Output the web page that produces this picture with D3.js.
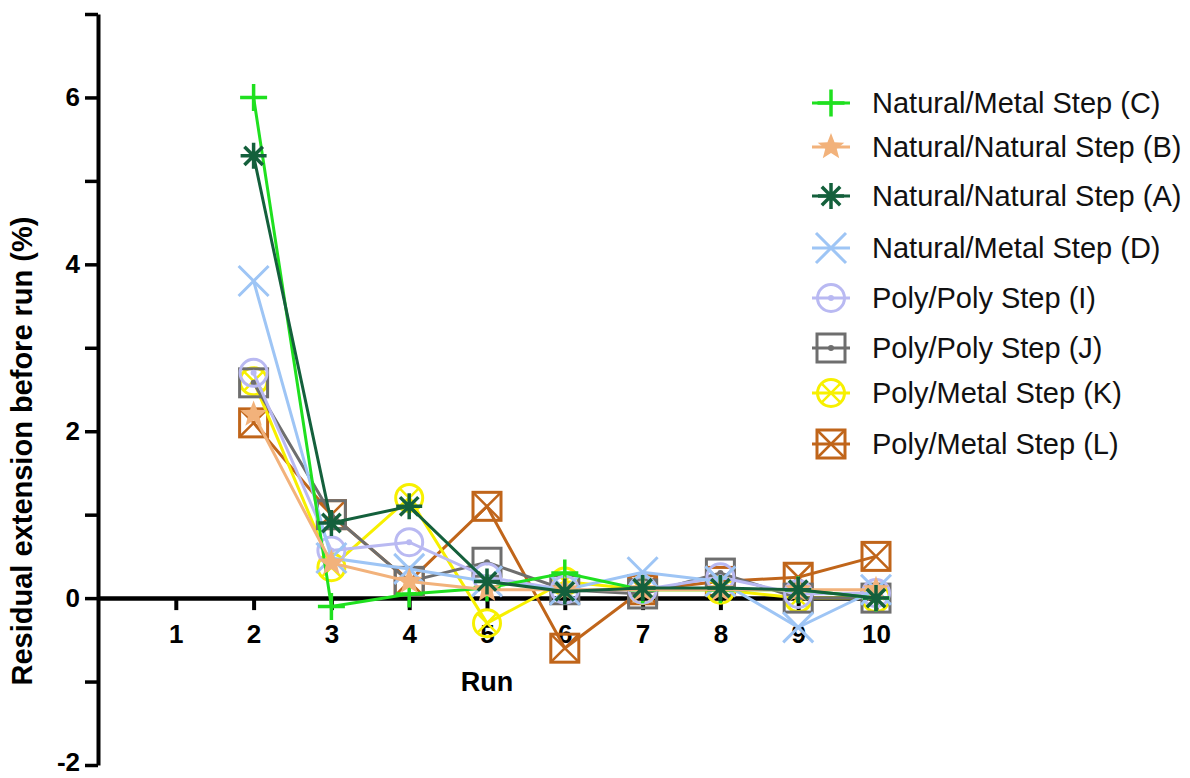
<!DOCTYPE html>
<html><head><meta charset="utf-8">
<script src="https://cdn.jsdelivr.net/npm/d3@7"></script>
<style>
body{margin:0;background:#fff;}
svg{display:block;font-family:Arial,"Liberation Sans",sans-serif;}
</style></head>
<body><svg id="chart" width="1190" height="778"></svg>
<script>
// ---- data ----
const runs = [2,3,4,5,6,7,8,9,10];
const seriesNames = ["Natural/Metal Step (C)","Natural/Natural Step (B)","Natural/Natural Step (A)","Natural/Metal Step (D)","Poly/Poly Step (I)","Poly/Poly Step (J)","Poly/Metal Step (K)","Poly/Metal Step (L)"];
const valuesC = [6.0,-0.1,0.05,0.12,0.3,0.1,0.1,0.1,0.0];
const valuesB = [2.2,0.42,0.2,0.1,0.1,0.1,0.1,0.1,0.1];
const valuesA = [5.3,0.9,1.1,0.2,0.08,0.12,0.12,0.1,0.0];
const valuesD = [3.8,0.48,0.35,0.2,0.1,0.31,0.2,-0.35,0.1];
const valuesI = [2.7,0.57,0.67,0.25,0.1,0.1,0.25,0.05,0.06];
const valuesJ = [2.58,1.0,0.2,0.43,0.1,0.05,0.3,0.0,0.0];
const valuesK = [2.6,0.37,1.2,-0.3,0.2,0.1,0.1,0.0,0.0];
const valuesL = [2.1,1.0,0.2,1.1,-0.6,0.1,0.2,0.25,0.5];
const xTicks = [1,2,3,4,5,6,7,8,9,10];
const yTicks = [-2,-1,0,1,2,3,4,5,6,7];
const yLabelTicks = [-2,0,2,4,6];

// ---- styling ----
const colors = ["#1fe01f","#f2b27b","#14603c","#9ec5f5","#b9b9f2","#6e6e6e","#f7f000","#c0651a"];
const shapes = ["plus","star","asterisk","x","circleDot","squareDot","circleX","squareX"];
const allValues = [valuesC,valuesB,valuesA,valuesD,valuesI,valuesJ,valuesK,valuesL];
const series = seriesNames.map((n,i)=>({name:n,color:colors[i],shape:shapes[i],values:allValues[i]}));
const drawOrder = [7,6,5,4,3,0,1,2];
const legendRowY = [103,147,196,248,298,348,393,444];

const svg = d3.select("#chart");
const x = d3.scaleLinear().domain([0,10]).range([98,876]);
const y = d3.scaleLinear().domain([-2,7]).range([765,14]);

// axes
const yAxis = d3.axisLeft(y).tickValues(yTicks).tickSize(13).tickPadding(5)
  .tickFormat(d=> yLabelTicks.includes(d) ? d3.format("d")(d) : "").tickSizeOuter(0);
const gy = svg.append("g").attr("transform",`translate(${x(0)},0)`).call(yAxis);
gy.select(".domain").attr("stroke","#000").attr("stroke-width",4);
gy.selectAll(".tick line").attr("stroke","#000").attr("stroke-width",3.5);
gy.selectAll(".tick text").attr("fill","#000").style("font-size","26px").style("font-weight","bold")
  .text(d=> yLabelTicks.includes(d) ? (d<0?"-"+Math.abs(d):String(d)) : "")
  .attr("dy", d=> d===-2 ? "0.2em" : "0.32em");

const xAxis = d3.axisBottom(x).tickValues(xTicks).tickSize(12).tickPadding(14).tickSizeOuter(0).tickFormat(d3.format("d"));
const gx = svg.append("g").attr("transform",`translate(0,${y(0)})`).call(xAxis);
gx.select(".domain").attr("stroke","#000").attr("stroke-width",4.5);
gx.selectAll(".tick line").attr("stroke","#000").attr("stroke-width",4);
gx.selectAll(".tick text").attr("fill","#000").style("font-size","26px").style("font-weight","bold");

svg.append("text").attr("x",x(5)).attr("y",691).attr("text-anchor","middle")
  .style("font-size","27px").style("font-weight","bold").text("Run");
svg.append("text").attr("transform",`translate(32,451) rotate(-90)`).attr("text-anchor","middle")
  .style("font-size","29px").style("font-weight","bold").text("Residual extension before run (%)");

// marker drawing
function drawMarker(g, shape, color){
  const sw = 3;
  if(shape==="plus"){
    const s=13.5;
    g.append("path").attr("d",`M${-s},0H${s}M0,${-s}V${s}`).attr("stroke",color).attr("stroke-width",3.5).attr("fill","none");
  } else if(shape==="star"){
    const pts=[];
    for(let k=0;k<10;k++){const r=k%2?6:14;const a=-Math.PI/2+k*Math.PI/5;pts.push([r*Math.cos(a),r*Math.sin(a)]);}
    g.append("path").attr("d","M"+pts.map(p=>p.join(",")).join("L")+"Z").attr("fill",color).attr("stroke","none");
  } else if(shape==="asterisk"){
    let d="";
    for(let k=0;k<4;k++){const a=k*Math.PI/4;const c=Math.cos(a)*13,sn=Math.sin(a)*13;d+=`M${-c},${-sn}L${c},${sn}`;}
    g.append("path").attr("d",d).attr("stroke",color).attr("stroke-width",3.5).attr("fill","none");
  } else if(shape==="x"){
    const t=15;
    g.append("path").attr("d",`M${-t},${-t}L${t},${t}M${-t},${t}L${t},${-t}`).attr("stroke",color).attr("stroke-width",3).attr("fill","none");
  } else if(shape==="circleDot"){
    g.append("circle").attr("r",13.5).attr("fill","none").attr("stroke",color).attr("stroke-width",sw);
    g.append("circle").attr("r",3).attr("fill",color);
  } else if(shape==="squareDot"){
    const h=14;
    g.append("rect").attr("x",-h).attr("y",-h).attr("width",2*h).attr("height",2*h).attr("fill","none").attr("stroke",color).attr("stroke-width",sw);
    g.append("circle").attr("r",3).attr("fill",color);
  } else if(shape==="circleX"){
    const r=13.5, q=r*Math.SQRT1_2;
    g.append("circle").attr("r",r).attr("fill","none").attr("stroke",color).attr("stroke-width",sw);
    g.append("path").attr("d",`M${-q},${-q}L${q},${q}M${-q},${q}L${q},${-q}`).attr("stroke",color).attr("stroke-width",2.5);
  } else if(shape==="squareX"){
    const h=14;
    g.append("rect").attr("x",-h).attr("y",-h).attr("width",2*h).attr("height",2*h).attr("fill","none").attr("stroke",color).attr("stroke-width",sw);
    g.append("path").attr("d",`M${-h},${-h}L${h},${h}M${-h},${h}L${h},${-h}`).attr("stroke",color).attr("stroke-width",2.5);
  }
}

const line = d3.line().x(d=>x(d[0])).y(d=>y(d[1]));
const plot = svg.append("g");
drawOrder.forEach(i=>{
  const s = series[i];
  const pts = runs.map((r,j)=>[r,s.values[j]]);
  const g = plot.append("g");
  g.append("path").attr("d",line(pts)).attr("fill","none").attr("stroke",s.color).attr("stroke-width",3);
  pts.forEach(p=>{
    const m = g.append("g").attr("transform",`translate(${x(p[0])},${y(p[1])})`);
    drawMarker(m,s.shape,s.color);
  });
});

// legend
const leg = svg.append("g");
series.forEach((s,i)=>{
  const yy = legendRowY[i];
  const g = leg.append("g").attr("transform",`translate(831,${yy})`);
  g.append("line").attr("x1",-19).attr("x2",19).attr("stroke",s.color).attr("stroke-width",3);
  drawMarker(g,s.shape,s.color);
  leg.append("text").attr("x",872).attr("y",yy).attr("dy","0.35em")
    .style("font-size","29px").attr("fill","#111").text(s.name);
});
</script>
</body></html>
